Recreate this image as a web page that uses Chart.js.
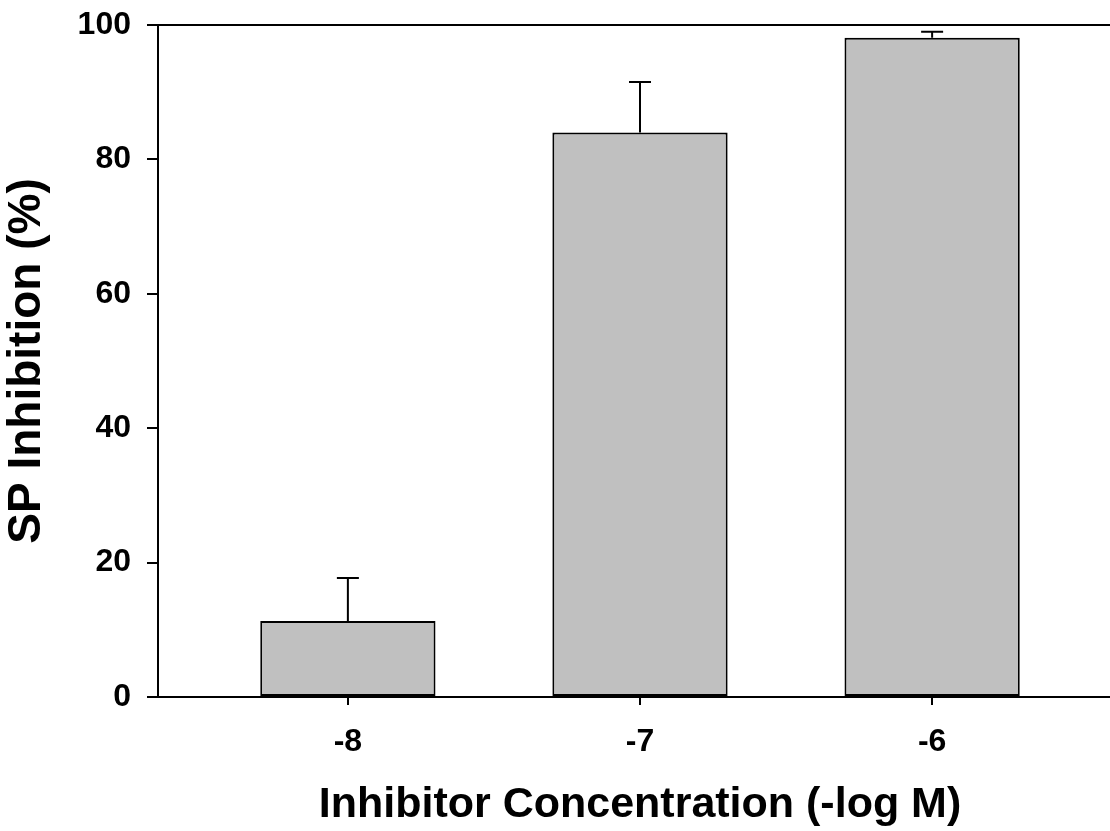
<!DOCTYPE html>
<html lang="en">
<head>
    <meta charset="UTF-8">
    <title>SP Inhibition</title>
    <script src="https://cdn.jsdelivr.net/npm/chart.js"></script>
    <style>
        html, body {
            margin: 0;
            padding: 0;
            background: #fff;
            overflow: hidden;
        }
        .container {
            width: 1122px;
            height: 831px;
        }
    </style>
</head>
<body>
    <div class="container">
        <canvas id="inhibitionChart" width="1122" height="831"></canvas>
    </div>

    <script>
        // dose (-log M), mean inhibition (%) and upper error (SEM)
        const doses = [-8, -7, -6];
        const inhibition = [11.3, 84.0, 98.1];
        const sem = [6.4, 7.5, 0.9];
        const xTickLabels = ['-8', '-7', '-6'];
        const yTicks = [0, 20, 40, 60, 80, 100];

        const FONT = '"Liberation Sans", Arial, Helvetica, sans-serif';

        // upper error bars with a small cap
        const errorBars = {
            id: 'errorBars',
            afterDatasetsDraw(chart) {
                const x = chart.scales.x;
                const y = chart.scales.y;
                const ctx = chart.ctx;
                ctx.save();
                ctx.strokeStyle = '#000';
                ctx.lineWidth = 2;
                doses.forEach((d, i) => {
                    const px = x.getPixelForValue(d);
                    const yMean = y.getPixelForValue(inhibition[i]);
                    const yTop = y.getPixelForValue(inhibition[i] + sem[i]);
                    ctx.beginPath();
                    ctx.moveTo(px, yMean);
                    ctx.lineTo(px, yTop);
                    ctx.moveTo(px - 11, yTop);
                    ctx.lineTo(px + 11, yTop);
                    ctx.stroke();
                });
                ctx.restore();
            }
        };

        // frame line along the top of the plot
        const topBorder = {
            id: 'topBorder',
            afterDraw(chart) {
                const a = chart.chartArea;
                const ctx = chart.ctx;
                ctx.save();
                ctx.strokeStyle = '#000';
                ctx.lineWidth = 2;
                ctx.beginPath();
                ctx.moveTo(a.left - 1, a.top);
                ctx.lineTo(a.right, a.top);
                ctx.stroke();
                ctx.restore();
            }
        };

        function createChart() {
            const ctx = document.getElementById('inhibitionChart').getContext('2d');

            new Chart(ctx, {
                type: 'bar',
                data: {
                    datasets: [{
                        label: 'SP Inhibition',
                        data: doses.map((d, i) => ({ x: d, y: inhibition[i] })),
                        backgroundColor: '#c0c0c0',
                        borderColor: '#000',
                        borderWidth: 2,
                        borderSkipped: false,
                        categoryPercentage: 1,
                        barPercentage: 0.6
                    }]
                },
                options: {
                    responsive: false,
                    animation: false,
                    layout: {
                        padding: { top: 25, left: 0, right: 0, bottom: 0 }
                    },
                    plugins: {
                        legend: { display: false },
                        tooltip: { enabled: false }
                    },
                    scales: {
                        x: {
                            type: 'linear',
                            offset: false,
                            min: -8.65,
                            max: -5.35,
                            afterBuildTicks: (scale) => {
                                scale.ticks = doses.map(v => ({ value: v }));
                            },
                            afterFit: (scale) => {
                                scale.height = 134;
                                scale.paddingLeft = 0;
                                scale.paddingRight = 0;
                            },
                            grid: {
                                offset: false,
                                drawOnChartArea: false,
                                tickLength: 8,
                                lineWidth: 2,
                                color: '#000'
                            },
                            border: { display: true, width: 2, color: '#000' },
                            ticks: {
                                padding: 18,
                                color: '#000',
                                maxRotation: 0,
                                font: { family: FONT, size: 32, weight: 'bold' },
                                callback: (value) => xTickLabels[doses.indexOf(value)]
                            },
                            title: {
                                display: true,
                                text: 'Inhibitor Concentration (-log M)',
                                color: '#000',
                                padding: { top: 0, bottom: 0 },
                                font: { family: FONT, size: 43, weight: 'bold' }
                            }
                        },
                        y: {
                            min: 0,
                            max: 100,
                            afterBuildTicks: (scale) => {
                                scale.ticks = yTicks.map(v => ({ value: v }));
                            },
                            afterFit: (scale) => {
                                scale.width = 158;
                                scale.paddingTop = 0;
                                scale.paddingBottom = 0;
                            },
                            grid: {
                                drawOnChartArea: false,
                                tickLength: 11,
                                lineWidth: 2,
                                color: '#000'
                            },
                            border: { display: true, width: 2, color: '#000' },
                            ticks: {
                                padding: 16,
                                color: '#000',
                                font: { family: FONT, size: 32, weight: 'bold' }
                            },
                            title: {
                                display: true,
                                text: 'SP Inhibition (%)',
                                color: '#000',
                                padding: { top: 0, bottom: 0 },
                                font: { family: FONT, size: 46, weight: 'bold' }
                            }
                        }
                    }
                },
                plugins: [errorBars, topBorder]
            });
        }

        window.onload = function () {
            createChart();
        };
    </script>
</body>
</html>
